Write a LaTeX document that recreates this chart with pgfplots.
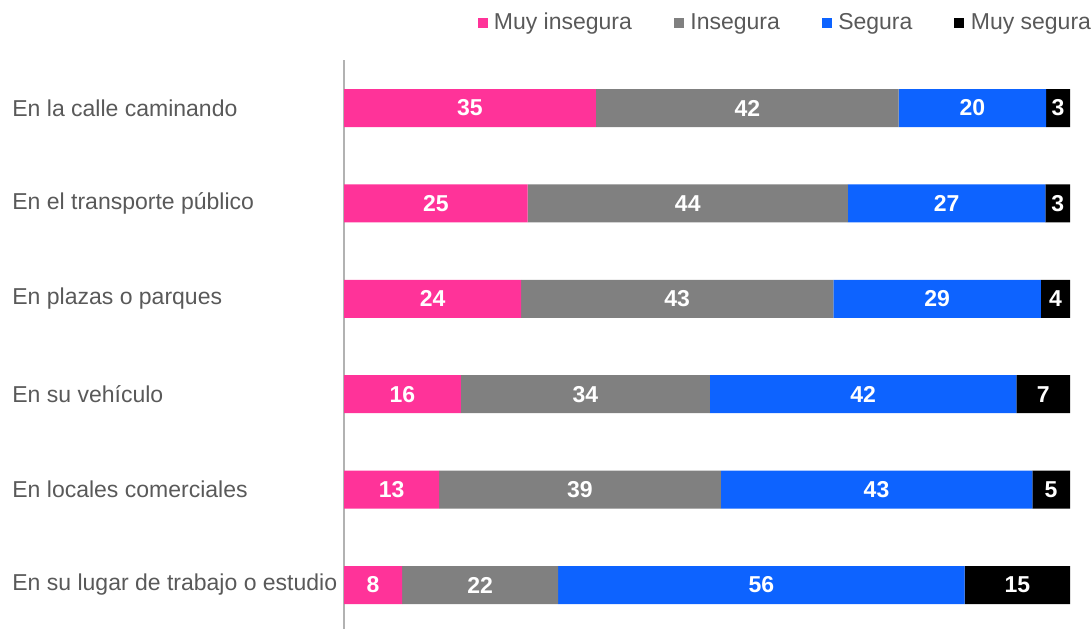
\documentclass[border=0pt]{standalone}
\usepackage{fontspec}
\setmainfont{Liberation Sans}
\usepackage{pgfplots}
\usepackage{pgfplotstable}
\pgfplotsset{compat=1.18}
\definecolor{cpink}{HTML}{FF3399}
\definecolor{cgray}{HTML}{808080}
\definecolor{cblue}{HTML}{0D63FF}
\definecolor{ctext}{HTML}{595959}

\pgfplotstableread{
y a b c d la lb lc ld
0 34.7 41.7 20.3 3.3 35 42 20 3
1 25.3 44.1 27.2 3.4 25 44 27 3
2 24.4 43.0 28.6 4.0 24 43 29 4
3 16.1 34.3 42.2 7.4 16 34 42 7
4 13.1 38.8 42.9 5.2 13 39 43 5
5 8.0 21.5 56.0 14.5 8 22 56 15
}\data

\begin{document}
\begin{tikzpicture}
\useasboundingbox (0,0) rectangle (546pt,314.5pt);
\begin{axis}[
  at={(172pt,0pt)}, anchor=south west,
  scale only axis, width=363pt, height=284.5pt,
  xbar stacked, bar width=19pt,
  xmin=0, xmax=100, ymin=-0.503, ymax=5.461, y dir=reverse,
  axis x line=none, axis y line*=left,
  y axis line style={draw=black!30, line width=0.8pt},
  ytick={0,...,5},
  yticklabels={En la calle caminando, En el transporte público, En plazas o parques, En su vehículo, En locales comerciales, En su lugar de trabajo o estudio},
  major tick length=0pt,
  yticklabel style={anchor=west, inner sep=0pt, xshift=-166pt, font=\fontsize{11.5}{13}\selectfont, text=ctext},
  legend columns=4,
  legend style={at={(1.035,1.09)}, anchor=north east, draw=none, fill=none,
    font=\fontsize{11.5}{13}\selectfont, text=ctext, inner sep=0pt,
    /tikz/every even column/.append style={column sep=19pt}},
  legend image code/.code={\fill[#1] (0pt,-2.5pt) rectangle (5pt,2.5pt); \path (6.2pt,0pt);},
  point meta=explicit symbolic,
  nodes near coords={\pgfplotspointmeta},
  every node near coord/.append style={text=white, font=\fontsize{11.5}{13}\selectfont\bfseries},
]
\addplot[fill=cpink, draw=none] table[x=a,y=y,meta=la]{\data};
\addlegendentry{Muy insegura}
\addplot[fill=cgray, draw=none] table[x=b,y=y,meta=lb]{\data};
\addlegendentry{Insegura}
\addplot[fill=cblue, draw=none] table[x=c,y=y,meta=lc]{\data};
\addlegendentry{Segura}
\addplot[fill=black, draw=none] table[x=d,y=y,meta=ld]{\data};
\addlegendentry{Muy segura}
\end{axis}
\end{tikzpicture}
\end{document}
